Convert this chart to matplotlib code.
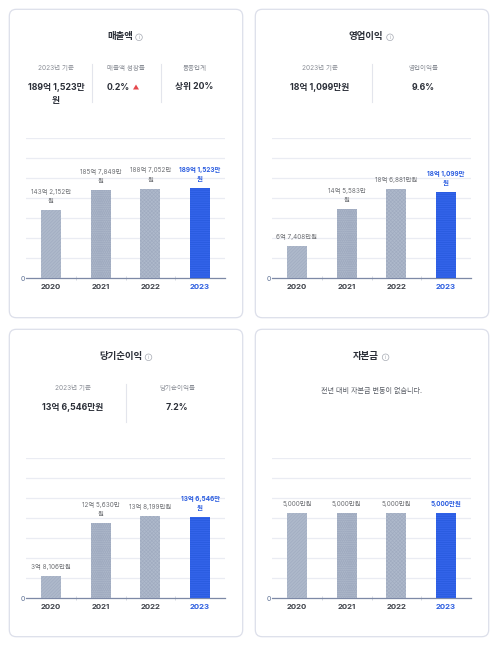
"""Four KPI cards with yearly bars (매출액, 영업이익, 당기순이익, 자본금)."""

import matplotlib
matplotlib.use("Agg")
import matplotlib.pyplot as plt
from matplotlib.patches import Circle, FancyBboxPatch, Polygon
from matplotlib.lines import Line2D
import numpy as np

plt.rcParams["font.family"] = ["Inter", "Noto Sans CJK KR", "DejaVu Sans"]
plt.rcParams["hatch.linewidth"] = 0.45

W, H = 492, 647

years = ["2020", "2021", "2022", "2023"]

# values in 억원
sales = [143.2152, 185.7849, 188.7052, 189.1523]
operating = [6.7408, 14.5583, 18.6881, 18.1099]
net_income = [3.8106, 12.5630, 13.8199, 13.6546]
capital = [0.5, 0.5, 0.5, 0.5]

sales_labels = ["143억 2,152만\n원", "185억 7,849만\n원", "188억 7,052만\n원", "189억 1,523만\n원"]
operating_labels = ["6억 7,408만원", "14억 5,583만\n원", "18억 6,881만원", "18억 1,099만\n원"]
net_labels = ["3억 8,106만원", "12억 5,630만\n원", "13억 8,199만원", "13억 6,546만\n원"]
capital_labels = ["5,000만원", "5,000만원", "5,000만원", "5,000만원"]

# value of one gridline step per card
grid_steps = [42.03, 4.19, 3.357, 0.1172]

titles = ["매출액", "영업이익", "당기순이익", "자본금"]
stat_heads = [
    ["2023년 기준", "매출액 성장률", "동종업계"],
    ["2023년 기준", "영업이익률"],
    ["2023년 기준", "당기순이익률"],
    [],
]
stat_values = [
    ["189억 1,523만\n원", "0.2%", "상위 20%"],
    ["18억 1,099만원", "9.6%"],
    ["13억 6,546만원", "7.2%"],
    [],
]
no_change_note = "전년 대비 자본금 변동이 없습니다."

BLUE = "#2a5ce0"
GREY_BAR = "#aeb9cb"
GRID = "#eaecf3"
AXIS = "#7d89a6"
BORDER = "#dcdfea"
DARK = "#2b2f38"
MUTED = "#8b8f97"
LABEL = "#6f7175"

# card origin, title centre, icon centre (pixels)
origins = [(0, 0), (246, 0), (0, 320), (246, 320)]
title_x = [120.5, 120, 120.5, 120]
icon_x = [139, 144, 148.5, 139.6]
head_x = [[56, 126, 194.5], [73.5, 177.5], [73, 177], []]
sep_x = [[91.5, 160.5], [126.3], [126.3], []]
hatches = ["//////////", "ooooooooo", "xxxxxxxxx", "---------"]


def fx(x):
    return x / W


def fy(y):
    return 1 - y / H


def draw_card(fig, idx, values, labels):
    ox, oy = origins[idx]

    fig.add_artist(FancyBboxPatch(
        (ox + 15, oy + 15), 222, 281 + (16 if oy == 0 else 15),
        boxstyle="round,pad=5.7,rounding_size=7", transform=pix,
        fc="white", ec=BORDER, lw=0.9, zorder=-1))

    fig.text(fx(ox + title_x[idx]), fy(oy + 37), titles[idx], ha="center", va="center",
             fontsize=6.8, fontweight="bold", color=DARK)
    fig.add_artist(Circle((ox + icon_x[idx], oy + 37.3), 3.3, transform=pix,
                          fc="none", ec="#a5a9b2", lw=0.5))
    fig.text(fx(ox + icon_x[idx]), fy(oy + 37.2), "i", ha="center", va="center",
             fontsize=3.6, color="#a0a4ad")

    for x, head, val in zip(head_x[idx], stat_heads[idx], stat_values[idx]):
        fig.text(fx(ox + x), fy(oy + 68), head, ha="center", va="center",
                 fontsize=4.7, color=MUTED)
        if val == "0.2%":
            fig.text(fx(ox + 118.5), fy(oy + 87), val, ha="center", va="center",
                     fontsize=6.3, fontweight="bold", color=DARK)
            fig.add_artist(Polygon([[133, 89.5], [139, 89.5], [136, 84.5]],
                                   transform=pix, fc="#e5484d", ec="none"))
            continue
        lines = val.split("\n")
        for k, line in enumerate(lines):
            fig.text(fx(ox + x), fy(oy + 87 + 13 * k), line, ha="center", va="center",
                     fontsize=6.3, fontweight="bold", color=DARK)
    for x in sep_x[idx]:
        fig.add_artist(Line2D([ox + x, ox + x], [oy + 64, oy + 102], transform=pix,
                              color="#e3e5ec", lw=0.8))
    if idx == 3:
        fig.text(fx(ox + 125.6), fy(oy + 70), no_change_note, ha="center", va="center",
                 fontsize=5.1, color="#5a5e66")

    # chart area: 7 grid steps of 20 px above the baseline
    left, right, top, bottom = 26, 225, oy + 138.3, oy + 278.3
    ax = fig.add_axes([fx(ox + left), fy(bottom), (right - left) / W, (bottom - top) / H])
    ax.patch.set_alpha(0)
    step = grid_steps[idx]
    x = np.arange(len(years))

    ax.set_xlim(-0.5, 3.5)
    ax.set_ylim(0, step * 7)
    ax.set_yticks([step * k for k in range(8)])
    ax.set_yticklabels(["0"] + [""] * 7)
    ax.grid(True, axis="y", color=GRID, lw=0.9)
    ax.set_axisbelow(True)
    for s in ["top", "right", "left"]:
        ax.spines[s].set_visible(False)
    ax.spines["bottom"].set_color(AXIS)
    ax.spines["bottom"].set_linewidth(0.9)

    ax.set_xticks(x)
    ax.set_xticklabels(years, fontsize=5.6, fontweight="bold", color="#3d4149")
    ax.get_xticklabels()[3].set_color(BLUE)
    ax.set_xticks([0.5, 1.5, 2.5], minor=True)
    ax.tick_params(axis="x", which="major", length=0, pad=3.8)
    ax.tick_params(axis="x", which="minor", length=3, width=0.5, color="#c5cad6", direction="inout")
    ax.tick_params(axis="y", length=0, pad=1.0, labelsize=5, labelcolor="#5c6f94")

    for i, (v, lab) in enumerate(zip(values, labels)):
        is_last = i == 3
        ax.bar(x[i], v, 0.4, color=BLUE if is_last else GREY_BAR,
               edgecolor="#3a6af0" if is_last else "#a0abc0",
               hatch=hatches[i], linewidth=0, zorder=3)
        ax.annotate(lab, (x[i], v), xytext=(0, 4.3), textcoords="offset points",
                    ha="center", va="bottom", fontsize=4.6, linespacing=1.65,
                    color=BLUE if is_last else LABEL,
                    fontweight="bold" if is_last else "normal",
                    annotation_clip=False, zorder=4)


fig = plt.figure(figsize=(W / 100, H / 100), dpi=100, facecolor="white")

# pixel coordinates with origin at the top left
pix = matplotlib.transforms.Affine2D().scale(1 / W, -1 / H).translate(0, 1) + fig.transFigure

draw_card(fig, 0, sales, sales_labels)
draw_card(fig, 1, operating, operating_labels)
draw_card(fig, 2, net_income, net_labels)
draw_card(fig, 3, capital, capital_labels)

fig.savefig("out.png", dpi=100)
plt.close(fig)
